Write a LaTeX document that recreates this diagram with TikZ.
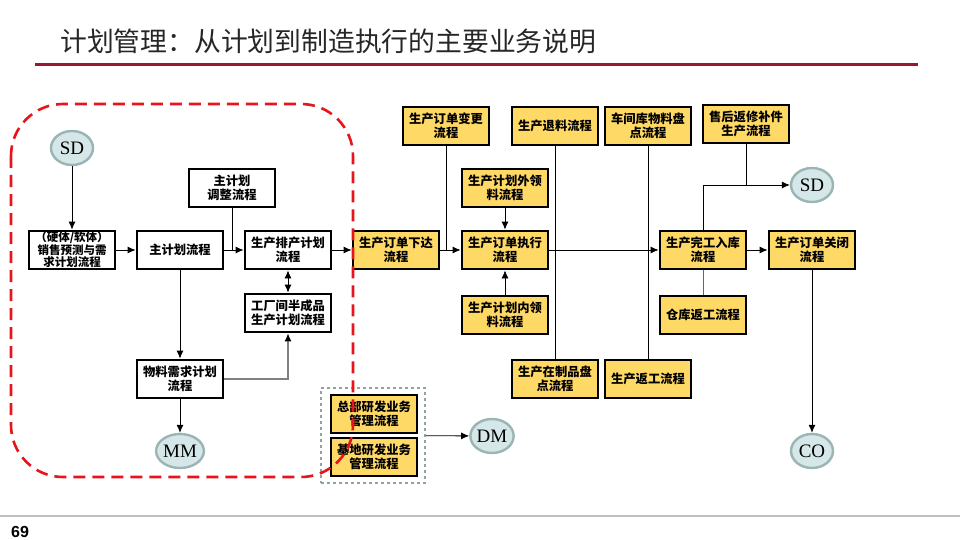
\documentclass[tikz,border=0pt]{standalone}
\usepackage{fontspec}
\usetikzlibrary{arrows.meta,shapes.geometric,fit}
\newfontfamily\cjk{Noto Sans CJK SC}
\newfontfamily\serifx{Liberation Serif}
\newfontfamily\sansx{Liberation Sans}
\definecolor{ybox}{HTML}{FFD966}
\definecolor{ellfill}{HTML}{D5E7E8}
\definecolor{elldraw}{HTML}{9BB4B4}
\definecolor{titlered}{HTML}{9B1730}
\definecolor{dashred}{HTML}{E8141B}
\definecolor{graydash}{HTML}{8FA2A6}
\tikzset{
  pbox/.style={draw=black, line width=2.8pt, fill=white, minimum width=86pt, minimum height=38pt,
    inner sep=1pt, align=center, font=\cjk\bfseries\fontsize{12.3}{14}\selectfont},
  ypbox/.style={pbox, fill=ybox},
  sysell/.style={ellipse, draw=elldraw, fill=ellfill, line width=2.4pt, minimum width=42pt,
    minimum height=34pt, inner sep=0pt, font=\serifx\fontsize{19}{19}\selectfont},
  conn/.style={line width=0.8pt, draw=black},
  arr/.style={conn, -{Latex[length=8pt,width=7pt]}},
  grayarr/.style={line width=1.2pt, draw=black!50, -{Latex[length=8pt,width=7pt,fill=black,color=black]}},
  dblarr/.style={conn, {Latex[length=8pt,width=7pt]}-{Latex[length=8pt,width=7pt]}},
}
\begin{document}
\begin{tikzpicture}[x=1pt,y=-1pt]
\useasboundingbox (0,0) rectangle (960,540);
% title and rules
\node[anchor=west, inner sep=0pt, text=black!85, font=\cjk\fontsize{26.8}{28}\selectfont] (title) at (60,41) {计划管理：从计划到制造执行的主要业务说明};
\draw[titlered, line width=3pt] (35,65) -- (918,65);
\draw[black!25, line width=1.5pt] (0,516) -- (960,516);
\node[anchor=west, inner sep=0pt, font=\sansx\bfseries\fontsize{16}{16}\selectfont] (pnum) at (11,532) {69};

% left (white) nodes
\node[sysell] (SDa) at (72,148) {SD};
\node[pbox, font=\cjk\bfseries\fontsize{11.5}{11.8}\selectfont] (sales) at (72,250) {（硬体/软体）\\销售预测与需\\求计划流程};
\node[pbox] (zhu) at (180,250) {主计划流程};
\node[pbox] (tiaozheng) at (232,188) {主计划\\调整流程};
\node[pbox] (paichan) at (288,250) {生产排产计划\\流程};
\node[pbox] (gongchang) at (288,313) {工厂间半成品\\生产计划流程};
\node[pbox] (wuliao) at (180,379) {物料需求计划\\流程};
\node[sysell] (MM) at (180,451) {MM};

% right (yellow) nodes
\node[ypbox] (xiada) at (396,250) {生产订单下达\\流程};
\node[ypbox] (biangeng) at (446,126) {生产订单变更\\流程};
\node[ypbox] (jihuawai) at (505,188) {生产计划外领\\料流程};
\node[ypbox] (zhixing) at (505,250) {生产订单执行\\流程};
\node[ypbox] (jihuanei) at (505,315) {生产计划内领\\料流程};
\node[ypbox] (tuiliao) at (555,126) {生产退料流程};
\node[ypbox] (zaizhipin) at (555,379) {生产在制品盘\\点流程};
\node[ypbox] (chejianku) at (648,126) {车间库物料盘\\点流程};
\node[ypbox] (fangong) at (648,379) {生产返工流程};
\node[ypbox] (shouhou) at (746,124) {售后返修补件\\生产流程};
\node[sysell] (SDb) at (812,185) {SD};
\node[ypbox] (wangong) at (703,250) {生产完工入库\\流程};
\node[ypbox] (guanbi) at (812,250) {生产订单关闭\\流程};
\node[ypbox] (cangku) at (703,315) {仓库返工流程};
\node[sysell] (CO) at (812,451) {CO};
\node[ypbox] (zongbu) at (374,414) {总部研发业务\\管理流程};
\node[ypbox] (jidi) at (374,457) {基地研发业务\\管理流程};
\node[draw=graydash, dashed, line width=1.5pt, inner sep=0pt, minimum width=104pt, minimum height=95pt] (grp) at (373,435.5) {};
\node[sysell] (DM) at (492,436) {DM};

% connectors
\draw[arr] (SDa) -- (sales);
\draw[arr] (sales) -- (zhu);
\draw[arr] (zhu) -- (paichan);
\draw[conn] (tiaozheng.south) -- (tiaozheng.south |- paichan.west);
\draw[dblarr] (paichan) -- (gongchang);
\draw[arr] (zhu) -- (wuliao);
\draw[grayarr] (wuliao.east) -| (gongchang.south);
\draw[arr] (wuliao) -- (MM);
\draw[arr] (paichan) -- (xiada);
\draw[arr] (xiada) -- (zhixing);
\draw[conn] (biangeng.south) -- (biangeng.south |- zhixing.west);
\draw[arr] (jihuawai) -- (zhixing);
\draw[arr] (jihuanei) -- (zhixing);
\draw[arr] (zhixing) -- (wangong);
\draw[conn] (tuiliao) -- (zaizhipin);
\draw[conn] (chejianku) -- (fangong);
\draw[arr] (wangong) -- (guanbi);
\draw[arr] (wangong.north) |- (SDb.west);
\draw[conn] (shouhou.south) -- (shouhou.south |- SDb.west);
\draw[conn, draw=black!60] (wangong) -- (cangku);
\draw[arr] (guanbi) -- (CO);
\draw[arr] (grp) -- (DM);

% red dashed group outline
\draw[dashred, line width=2.6pt, dash pattern=on 12pt off 7pt, rounded corners=52pt] (11,104) rectangle (353,477);
\end{tikzpicture}
\end{document}
